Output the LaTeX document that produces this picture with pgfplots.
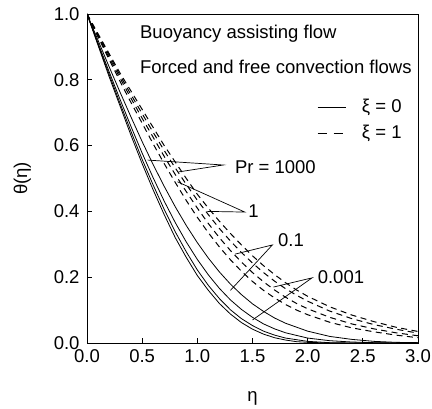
\documentclass[border=0pt]{standalone}
\usepackage{fontspec}
\setmainfont{Liberation Sans}
\usepackage{pgfplots}
\pgfplotsset{compat=1.18}
\begin{document}
\begin{tikzpicture}[font=\fontsize{18.5bp}{21bp}\selectfont]
\begin{axis}[
  at={(87bp,66bp)}, anchor=south west,
  scale only axis, width=331bp, height=329bp,
  xmin=0, xmax=3, ymin=0, ymax=1,
  xtick={0,0.5,1,1.5,2,2.5,3},
  ytick={0,0.2,0.4,0.6,0.8,1},
  /pgf/number format/.cd, fixed, fixed zerofill, precision=1, assume math mode=true,
  /pgfplots/.cd,
  tick align=inside, xtick pos=bottom, ytick pos=left,
  major tick length=5bp,
  tick style={line width=0.8bp, black},
  axis line style={line width=0.9bp},
  yticklabel style={xshift=-4bp},
  xticklabel style={yshift=-3bp},
  xlabel={η}, ylabel={θ(η)},
  xlabel style={at={(axis description cs:0.5,-0.168)}, anchor=center},
  ylabel style={at={(axis description cs:-0.195,0.5)}, anchor=center, rotate=0},
  every axis plot/.append style={black, line width=0.8bp},
  clip=true,
]
% solid curves (xi = 0)
\addplot[solid] coordinates {(0,1)(0.1,0.905)(0.2,0.81)(0.3,0.72)(0.4,0.63)(0.5,0.545)(0.6,0.465)(0.7,0.39)(0.8,0.32)(0.9,0.26)(1.0,0.205)(1.1,0.16)(1.2,0.12)(1.3,0.088)(1.4,0.062)(1.5,0.042)(1.6,0.027)(1.7,0.016)(1.8,0.009)(1.9,0.004)(2.0,0.002)(2.2,0)(3,0)};
\addplot[solid] coordinates {(0,1)(0.1,0.908)(0.2,0.817)(0.3,0.728)(0.4,0.642)(0.5,0.558)(0.6,0.48)(0.7,0.406)(0.8,0.338)(0.9,0.277)(1.0,0.222)(1.1,0.175)(1.2,0.135)(1.3,0.101)(1.4,0.074)(1.5,0.053)(1.6,0.036)(1.7,0.024)(1.8,0.015)(2.0,0.005)(2.2,0.001)(2.4,0)(3,0)};
\addplot[solid] coordinates {(0,1)(0.1,0.912)(0.2,0.825)(0.3,0.74)(0.4,0.657)(0.5,0.577)(0.6,0.502)(0.7,0.431)(0.8,0.366)(0.9,0.307)(1.0,0.254)(1.1,0.207)(1.2,0.166)(1.3,0.131)(1.4,0.102)(1.5,0.078)(1.6,0.058)(1.7,0.043)(1.8,0.031)(2.0,0.015)(2.2,0.007)(2.4,0.003)(2.6,0.001)(2.8,0)(3,0)};
\addplot[solid] coordinates {(0,1)(0.1,0.92)(0.2,0.84)(0.3,0.762)(0.4,0.686)(0.5,0.612)(0.6,0.542)(0.7,0.476)(0.8,0.414)(0.9,0.357)(1.0,0.305)(1.1,0.258)(1.2,0.216)(1.3,0.179)(1.4,0.147)(1.5,0.119)(1.6,0.096)(1.7,0.076)(1.8,0.06)(2.0,0.036)(2.2,0.02)(2.4,0.011)(2.6,0.005)(2.8,0.002)(3.0,0.001)};
% dashed curves (xi = 1)
\addplot[line width=1bp, dash pattern=on 6bp off 4.5bp] coordinates {(0,1)(0.1,0.93)(0.2,0.862)(0.3,0.795)(0.4,0.73)(0.5,0.668)(0.6,0.605)(0.7,0.545)(0.8,0.488)(0.9,0.433)(1.0,0.382)(1.1,0.335)(1.2,0.292)(1.3,0.253)(1.4,0.218)(1.5,0.187)(1.6,0.16)(1.7,0.137)(1.8,0.117)(1.9,0.1)(2.0,0.086)(2.2,0.063)(2.4,0.046)(2.6,0.034)(2.8,0.024)(3.0,0.016)};
\addplot[line width=1bp, dash pattern=on 6bp off 4.5bp] coordinates {(0,1)(0.1,0.933)(0.2,0.868)(0.3,0.805)(0.4,0.743)(0.5,0.683)(0.6,0.625)(0.7,0.567)(0.8,0.512)(0.9,0.46)(1.0,0.41)(1.1,0.363)(1.2,0.32)(1.3,0.281)(1.4,0.246)(1.5,0.214)(1.6,0.186)(1.7,0.161)(1.8,0.139)(1.9,0.12)(2.0,0.104)(2.2,0.078)(2.4,0.058)(2.6,0.043)(2.8,0.031)(3.0,0.022)};
\addplot[line width=1bp, dash pattern=on 6bp off 4.5bp] coordinates {(0,1)(0.1,0.937)(0.2,0.875)(0.3,0.813)(0.4,0.754)(0.5,0.697)(0.6,0.64)(0.7,0.585)(0.8,0.532)(0.9,0.482)(1.0,0.434)(1.1,0.39)(1.2,0.348)(1.3,0.31)(1.4,0.275)(1.5,0.243)(1.6,0.214)(1.7,0.188)(1.8,0.165)(1.9,0.145)(2.0,0.127)(2.2,0.097)(2.4,0.074)(2.6,0.056)(2.8,0.042)(3.0,0.03)};
\addplot[line width=1bp, dash pattern=on 6bp off 4.5bp] coordinates {(0,1)(0.1,0.94)(0.2,0.88)(0.3,0.82)(0.4,0.765)(0.5,0.71)(0.6,0.655)(0.7,0.6)(0.8,0.55)(0.9,0.5)(1.0,0.452)(1.1,0.41)(1.2,0.37)(1.3,0.333)(1.4,0.298)(1.5,0.265)(1.6,0.235)(1.7,0.208)(1.8,0.183)(1.9,0.161)(2.0,0.142)(2.2,0.11)(2.4,0.085)(2.6,0.065)(2.8,0.048)(3.0,0.035)};
% text
\node[anchor=base west, inner sep=0] at (axis cs:0.48,0.927) {Buoyancy assisting flow};
\node[anchor=base west, inner sep=0] at (axis cs:0.48,0.818) {Forced and free convection flows};
% legend
\draw[line width=0.8bp] (axis cs:2.09,0.717) -- (axis cs:2.35,0.717);
\node[anchor=west, inner sep=0] at (axis cs:2.49,0.717) {ξ = 0};
\draw[line width=0.9bp, dash pattern=on 9bp off 7bp] (axis cs:2.09,0.638) -- (axis cs:2.35,0.638);
\node[anchor=west, inner sep=0] at (axis cs:2.49,0.638) {ξ = 1};
% annotations
\draw[line width=0.7bp] (axis cs:0.55,0.556) -- (axis cs:1.235,0.541) -- (axis cs:0.83,0.52);
\node[anchor=west, inner sep=0] at (axis cs:1.34,0.535) {Pr = 1000};
\draw[line width=0.7bp] (axis cs:0.82,0.49) -- (axis cs:1.43,0.398) -- (axis cs:1.09,0.40);
\node[anchor=west, inner sep=0] at (axis cs:1.46,0.40) {1};
\draw[line width=0.7bp] (axis cs:1.34,0.27) -- (axis cs:1.68,0.298) -- (axis cs:1.30,0.16);
\node[anchor=west, inner sep=0] at (axis cs:1.73,0.313) {0.1};
\draw[line width=0.7bp] (axis cs:1.69,0.17) -- (axis cs:2.04,0.198) -- (axis cs:1.50,0.07);
\node[anchor=west, inner sep=0] at (axis cs:2.09,0.20) {0.001};
\end{axis}
\pgfresetboundingbox
\path[use as bounding box] (0,0) rectangle (432bp,409bp);
\end{tikzpicture}
\end{document}
